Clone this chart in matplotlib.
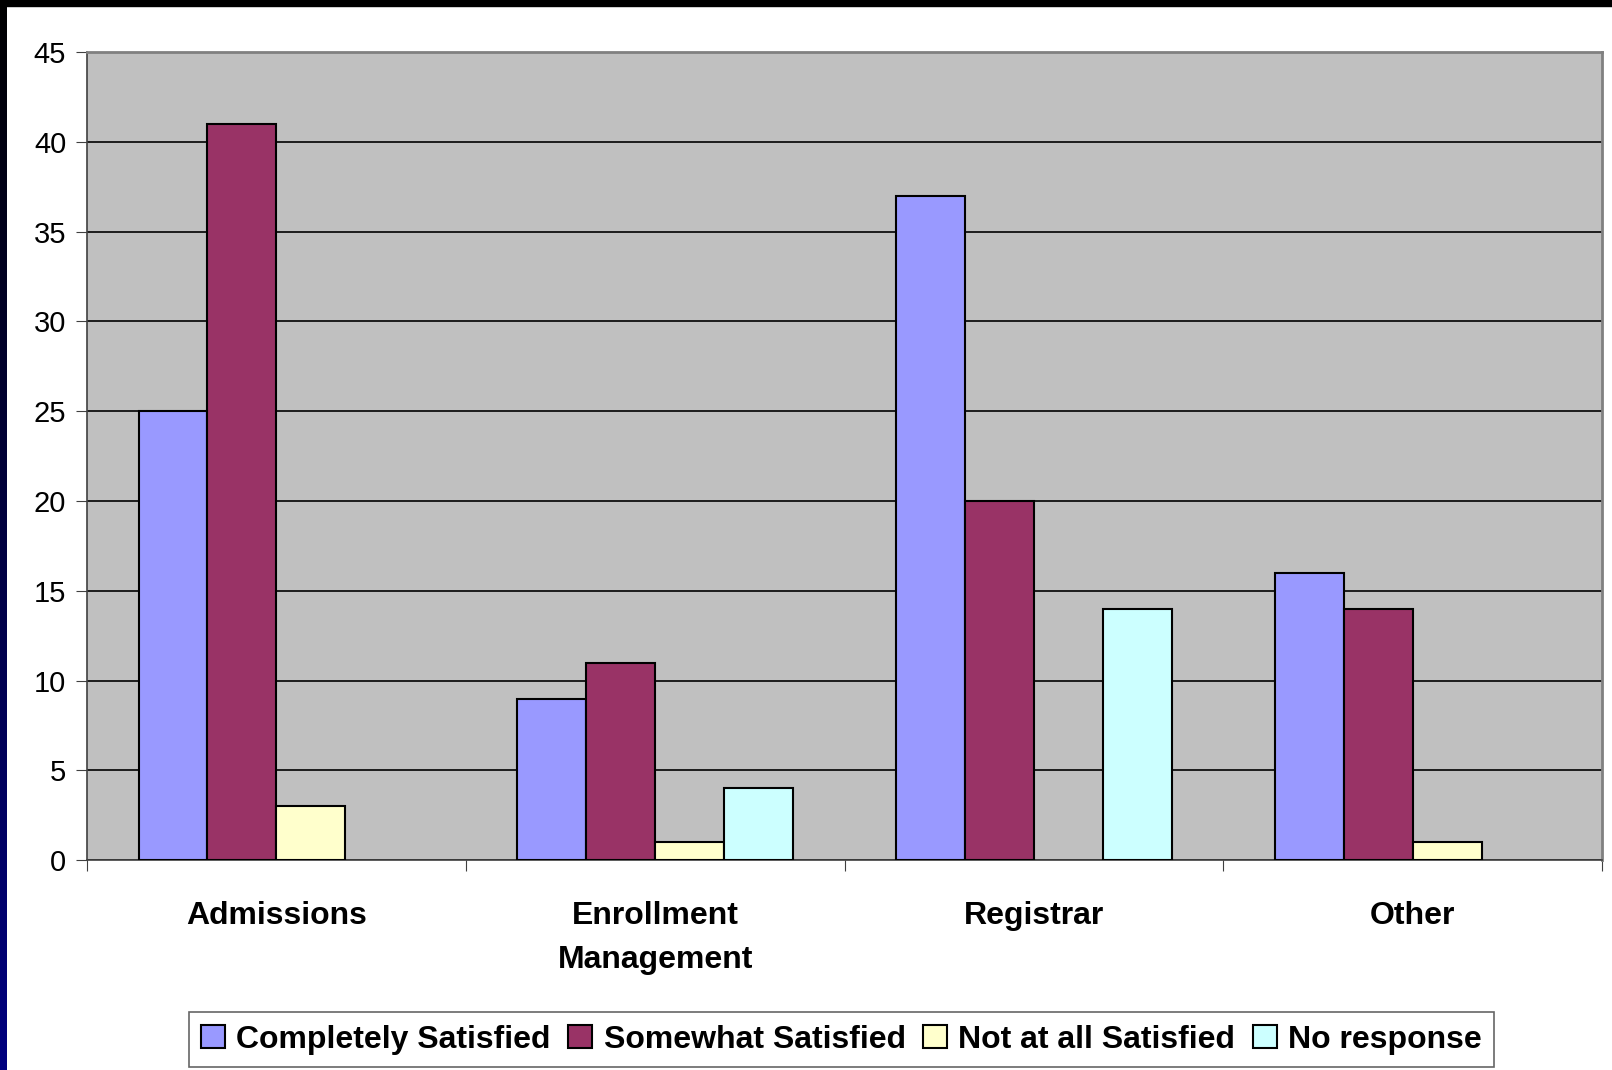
import matplotlib.pyplot as plt
import numpy as np

plt.rcParams['font.family'] = ['Liberation Sans', 'DejaVu Sans']

categories = ['Admissions', 'Enrollment\nManagement', 'Registrar', 'Other']
series_names = ['Completely Satisfied', 'Somewhat Satisfied', 'Not at all Satisfied', 'No response']
completely = [25, 9, 37, 16]
somewhat = [41, 11, 20, 14]
not_at_all = [3, 1, 0, 1]
no_response = [0, 4, 14, 0]
colors = ['#9999FF', '#993366', '#FFFFCC', '#CCFFFF']

fig = plt.figure(figsize=(16.12, 10.70), dpi=100)
ax = fig.add_axes([0.054, 0.196, 0.9398, 0.7554])
ax.set_facecolor('#C0C0C0')

x = np.arange(len(categories))
w = 0.182
handles = []
for i, (vals, name, c) in enumerate(zip([completely, somewhat, not_at_all, no_response], series_names, colors)):
    vals = np.array(vals, dtype=float)
    keep = vals > 0
    b = ax.bar(x[keep] + (i - 1.5) * w, vals[keep], width=w, color=c,
               edgecolor='black', linewidth=1.5, zorder=3, label=name)
    handles.append(b)

ax.set_xlim(-0.5, len(categories) - 0.5)
ax.set_ylim(0, 45)
ax.set_yticks(np.arange(0, 46, 5))
ax.yaxis.grid(True, color='black', linewidth=1.2, zorder=0)
ax.set_axisbelow(True)

# separators between categories as major ticks, labels on minor ticks
ax.set_xticks(np.arange(-0.5, len(categories), 1.0))
ax.set_xticklabels([])
ax.set_xticks(x, minor=True)
ax.set_xticklabels(categories, minor=True, fontsize=23, fontweight='bold', linespacing=1.62)
ax.tick_params(axis='x', which='major', length=8, color='#404040', direction='out')
ax.tick_params(axis='x', which='minor', length=0, pad=29)
ax.tick_params(axis='y', length=8, color='#404040', labelsize=21, pad=7)

for s in ['top', 'right']:
    ax.spines[s].set_color('#808080')
    ax.spines[s].set_linewidth(2)
ax.spines['left'].set_color('#404040')
ax.spines['left'].set_linewidth(1.2)
ax.spines['bottom'].set_color('#404040')
ax.spines['bottom'].set_linewidth(1.2)

leg = fig.legend(handles=handles, loc='center', bbox_to_anchor=(0.522, 0.0285), ncol=4,
                 prop={'size': 23, 'weight': 'bold'}, frameon=True, fancybox=False,
                 edgecolor='#404040', handlelength=0.75, handleheight=0.75,
                 handletextpad=0.35, columnspacing=0.55, borderpad=0.4, borderaxespad=0)
leg.get_frame().set_linewidth(1.2)

# black top border and dark gradient left border
fig.patches.append(plt.Rectangle((0, 1 - 6 / 1070), 1, 6 / 1070, transform=fig.transFigure,
                                 color='black', zorder=10))
bax = fig.add_axes([0, 0, 7 / 1612, 1])
grad = np.linspace(0, 1, 256).reshape(-1, 1)
cols = np.zeros((256, 1, 3))
cols[:, 0, 2] = 0.5 * grad[:, 0]
bax.imshow(cols, aspect='auto', origin='upper', extent=[0, 1, 0, 1])
bax.axis('off')

fig.savefig('out.png', dpi=100)
